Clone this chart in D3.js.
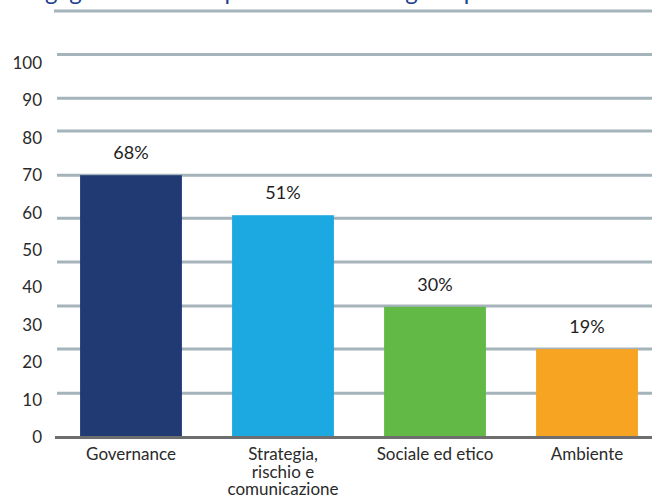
<!DOCTYPE html>
<html>
<head>
<meta charset="utf-8">
<script src="https://cdn.jsdelivr.net/npm/d3@7/dist/d3.min.js"></script>
<style>
  html, body { margin: 0; padding: 0; background: #ffffff; }
  svg { display: block; font-family: Lato, "Open Sans", sans-serif; }
</style>
</head>
<body>
<svg id="chart" width="652" height="498"></svg>
<script>
// ---- data ----
const titleText = "Engagement svolto per ciascuna categoria per tema";
const categories = ["Governance", "Strategia, rischio e comunicazione", "Sociale ed etico", "Ambiente"];
const categoryLines = [["Governance"], ["Strategia,", "rischio e", "comunicazione"], ["Sociale ed etico"], ["Ambiente"]];
const barValues = [70, 59.3, 34.8, 23.5];          // bar heights on the axis scale
const valueLabels = ["68%", "51%", "30%", "19%"];  // printed labels
const tickValues = [0, 10, 20, 30, 40, 50, 60, 70, 80, 90, 100];
const gridValues = [0, 11.7, 23.5, 35, 46.8, 58.5, 70, 81.8, 90.6, 102.3, 113.9];
const colors = ["#223a74", "#1ca8e0", "#62b946", "#f7a423"];

// ---- layout ----
const svg = d3.select("#chart");
const W = 652;
const y = d3.scaleLinear().domain([0, 100]).range([437, 63]);
const x = d3.scaleBand().domain(categories).range([55, 663]).paddingInner(0.33).paddingOuter(0.165);

// title (clipped at top, as in the reference)
svg.append("text")
  .attr("x", 18).attr("y", 0)
  .attr("fill", "#1d3f8f")
  .attr("font-size", 24)
  .text(titleText);

// gridlines
svg.append("g").selectAll("line")
  .data(gridValues.slice(1))
  .join("line")
  .attr("x1", (d, i) => i === gridValues.length - 2 ? 54 : 57)
  .attr("x2", W)
  .attr("y1", d => y(d)).attr("y2", d => y(d))
  .attr("stroke", "#a5b3bb")
  .attr("stroke-width", 3);

// y tick labels
const yAxis = d3.axisLeft(y).tickValues(tickValues).tickSize(0).tickPadding(0);
const gy = svg.append("g").attr("transform", "translate(42,0)").call(yAxis);
gy.select(".domain").remove();
gy.selectAll("text")
  .attr("font-family", "Lato, 'Open Sans', sans-serif")
  .attr("font-size", 17)
  .attr("fill", "#2a2a2a");

// bars
svg.append("g").selectAll("rect")
  .data(categories)
  .join("rect")
  .attr("x", d => x(d))
  .attr("width", x.bandwidth())
  .attr("y", (d, i) => y(barValues[i]))
  .attr("height", (d, i) => y(0) - y(barValues[i]))
  .attr("fill", (d, i) => colors[i]);

// baseline axis
svg.append("line")
  .attr("x1", 55).attr("x2", W)
  .attr("y1", y(0) + 0.5).attr("y2", y(0) + 0.5)
  .attr("stroke", "#6e6e6e")
  .attr("stroke-width", 3);

// value labels
svg.append("g").selectAll("text")
  .data(categories)
  .join("text")
  .attr("x", d => x(d) + x.bandwidth() / 2)
  .attr("y", (d, i) => y(barValues[i]) - 16)
  .attr("text-anchor", "middle")
  .attr("font-size", 18)
  .attr("fill", "#1e1e1e")
  .text((d, i) => valueLabels[i]);

// category labels
const cl = svg.append("g").selectAll("text")
  .data(categories)
  .join("text")
  .attr("x", d => x(d) + x.bandwidth() / 2)
  .attr("y", 460)
  .attr("text-anchor", "middle")
  .attr("font-size", 17)
  .attr("fill", "#2a2a2a");
cl.each(function(d, i) {
  const t = d3.select(this);
  categoryLines[i].forEach((line, j) => {
    t.append("tspan")
      .attr("x", x(d) + x.bandwidth() / 2)
      .attr("dy", j === 0 ? 0 : 17.5)
      .text(line);
  });
});
</script>
</body>
</html>
